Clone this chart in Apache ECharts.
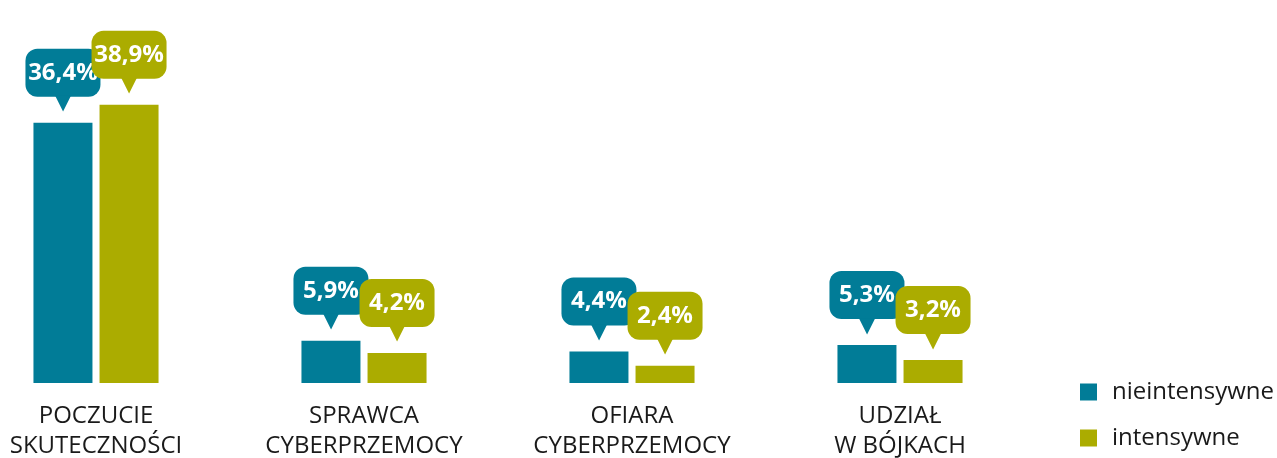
<!DOCTYPE html>
<html>
<head>
<meta charset="utf-8">
<script src="https://cdn.jsdelivr.net/npm/echarts@6/dist/echarts.min.js"></script>
<style>
html,body{margin:0;padding:0;background:#fff;}
#c{width:1277px;height:458px;}
</style>
</head>
<body>
<div id="c"></div>
<script>
const categories = ['POCZUCIE\nSKUTECZNOŚCI', 'SPRAWCA\nCYBERPRZEMOCY', 'OFIARA\nCYBERPRZEMOCY', 'UDZIAŁ\nW BÓJKACH'];
const seriesNames = ['nieintensywne', 'intensywne'];
const nieintensywne = [36.4, 5.9, 4.4, 5.3];
const intensywne = [38.9, 4.2, 2.4, 3.2];

const colors = ['#017c97', '#abac00'];
const font = '"Open Sans", "Noto Sans", sans-serif';

function fmt(v) { return v.toFixed(1).replace('.', ',') + '%'; }

function makeSeries(name, data, color) {
  return {
    name: name,
    type: 'bar',
    data: data,
    barWidth: 59,
    barGap: '12%',
    itemStyle: { color: color },
    label: {
      show: true,
      position: 'top',
      distance: 12,
      formatter: function (p) { return '{b|' + fmt(p.value) + '}\n{a|▼}'; },
      rich: {
        b: {
          backgroundColor: color,
          borderRadius: 12,
          width: 75,
          height: 48,
          align: 'center',
          color: '#fff',
          fontFamily: font,
          fontWeight: 'bold',
          fontSize: 24,
          lineHeight: 48
        },
        a: {
          color: color,
          fontSize: 21,
          lineHeight: 14,
          align: 'center',
          fontFamily: 'DejaVu Sans'
        }
      }
    }
  };
}

const chart = echarts.init(document.getElementById('c'), null, { renderer: 'canvas' });
chart.setOption({
  animation: false,
  color: colors,
  grid: { left: -38, right: 243, top: 97, bottom: 75, containLabel: false, outerBoundsMode: 'none' },
  legend: {
    orient: 'vertical',
    left: 1080,
    top: 380,
    padding: 0,
    itemWidth: 17,
    itemHeight: 17,
    itemGap: 22,
    icon: 'rect',
    data: seriesNames,
    textStyle: { fontFamily: font, fontSize: 24, color: '#1a1a1a', padding: [0, 0, 0, 10] }
  },
  xAxis: {
    type: 'category',
    data: categories,
    axisLine: { show: false },
    axisTick: { show: false },
    axisLabel: {
      interval: 0,
      margin: 18,
      fontFamily: font,
      fontSize: 24,
      lineHeight: 30,
      color: '#1a1a1a'
    }
  },
  yAxis: {
    type: 'value',
    min: 0,
    max: 40,
    show: false,
    splitLine: { show: false }
  },
  series: [
    makeSeries(seriesNames[0], nieintensywne, colors[0]),
    makeSeries(seriesNames[1], intensywne, colors[1])
  ]
});
</script>
</body>
</html>
